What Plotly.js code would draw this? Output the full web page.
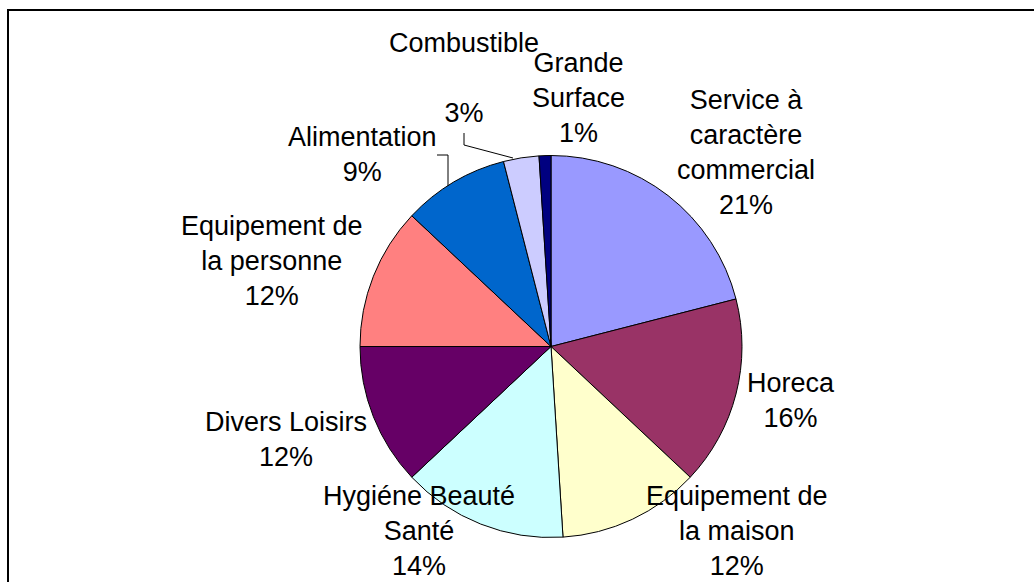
<!DOCTYPE html>
<html>
<head>
<meta charset="utf-8">
<script src="https://cdn.plot.ly/plotly-3.0.1.min.js"></script>
<style>
  html, body { margin: 0; padding: 0; background: #ffffff; }
  #chart { width: 1034px; height: 582px; }
</style>
</head>
<body>
<div id="chart"></div>
<script>
// ---- data ----
const categories = [
  "Service à caractère commercial",
  "Horeca",
  "Equipement de la maison",
  "Hygiéne Beauté Santé",
  "Divers Loisirs",
  "Equipement de la personne",
  "Alimentation",
  "Combustible",
  "Grande Surface"
];
const shares = [21, 16, 12, 14, 12, 12, 9, 3, 1];
const sliceColors = ["#9999FF", "#993366", "#FFFFCC", "#CCFFFF", "#660066",
                     "#FF8080", "#0066CC", "#CCCCFF", "#000080"];

// ---- label layout (wrapping and pixel placement of text blocks) ----
const W = 1034, H = 582;
const labelLines = [
  ["Service à", "caractère", "commercial"],
  ["Horeca"],
  ["Equipement de", "la maison"],
  ["Hygiéne Beauté", "Santé"],
  ["Divers Loisirs"],
  ["Equipement de", "la personne"],
  ["Alimentation"],
  ["Combustible", ""],
  ["Grande", "Surface"]
];
const labelCenters = [
  [746, 153], [791, 400], [737, 531], [419, 531], [286, 439],
  [272, 261], [362, 155], [464, 78], [578, 98]
];

const px = x => x / W;
const py = y => 1 - y / H;

const annotations = categories.map((c, i) => ({
  xref: "paper", yref: "paper",
  x: px(labelCenters[i][0]), y: py(labelCenters[i][1]),
  xanchor: "center", yanchor: "middle",
  text: labelLines[i].join("<br>") + "<br>" + shares[i] + "%",
  showarrow: false,
  align: "center",
  font: { family: "Liberation Sans, Arial, sans-serif", size: 27, color: "#000000" }
}));

// leader lines and frame
const line = { color: "#000000", width: 1 };
const shapes = [
  { type: "path", xref: "paper", yref: "paper", line: line,
    path: `M ${px(437)} ${py(155)} L ${px(448)} ${py(155)} L ${px(448)} ${py(186)}` },
  { type: "path", xref: "paper", yref: "paper", line: line,
    path: `M ${px(464)} ${py(133)} L ${px(464)} ${py(145)} L ${px(513)} ${py(158)}` },
  { type: "path", xref: "paper", yref: "paper", line: { color: "#000000", width: 2 },
    path: `M ${px(8)} ${py(600)} L ${px(8)} ${py(10)} L ${px(1040)} ${py(10)}` }
];

const trace = {
  type: "pie",
  labels: categories,
  values: shares,
  sort: false,
  direction: "clockwise",
  rotation: 0,
  textinfo: "none",
  hoverinfo: "none",
  marker: { colors: sliceColors, line: { color: "#000000", width: 1 } },
  domain: { x: [px(360), px(742)], y: [py(538), py(155)] },
  showlegend: false
};

const layout = {
  width: W, height: H,
  margin: { l: 0, r: 0, t: 0, b: 0 },
  paper_bgcolor: "#ffffff",
  plot_bgcolor: "#ffffff",
  showlegend: false,
  annotations: annotations,
  shapes: shapes
};

Plotly.newPlot("chart", [trace], layout, { staticPlot: true, displayModeBar: false });
</script>
</body>
</html>
